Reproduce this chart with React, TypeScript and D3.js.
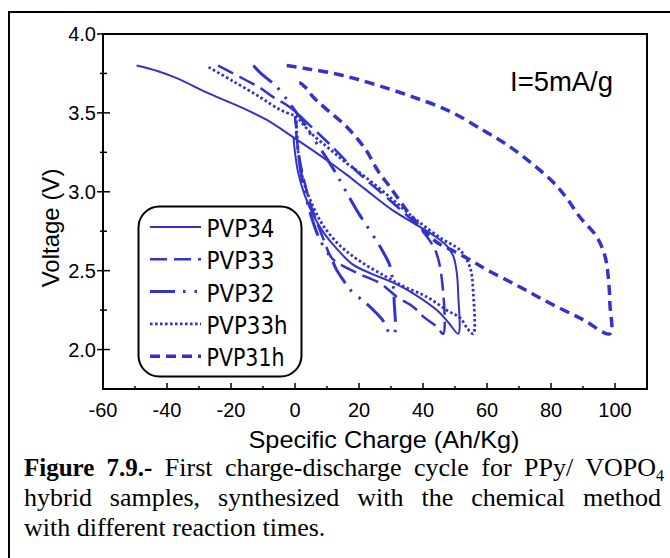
import React, { useLayoutEffect, useRef, useState } from "react";
import * as d3 from "d3";

// ---------- data ----------
const xTickValues = [-60, -40, -20, 0, 20, 40, 60, 80, 100];
const yTickValues = [2.0, 2.5, 3.0, 3.5, 4.0];
const seriesNames = ["PVP34", "PVP33", "PVP32", "PVP33h", "PVP31h"];

// PVP34 (solid)
const pvp34Q = [-49.5, -43, -37, -26.6, -16.2, -8.8, -0.5, 5, 10.6, 16, 22, 30, 38, 44, 47.5, 49.5, 50.6, 51, 51, 48, 44.3, 37, 30, 24, 18, 13, 9, 6, 3, 1, 0, -0.5];
const pvp34V = [3.80, 3.765, 3.72, 3.62, 3.53, 3.455, 3.345, 3.27, 3.19, 3.11, 3.015, 2.89, 2.79, 2.715, 2.655, 2.59, 2.48, 2.35, 2.10, 2.17, 2.25, 2.355, 2.43, 2.48, 2.54, 2.64, 2.74, 2.84, 2.98, 3.12, 3.25, 3.35];

// PVP33 (long dash)
const pvp33Q = [-24, -20.3, -15.6, -11, -6.8, -2.6, 0, 5.2, 10.9, 19.8, 30, 39, 43.8, 45.8, 46.3, 44.3, 40, 37, 31.8, 26.6, 20, 15, 11.5, 8.9, 4.7, 3.1, 1.5, 0.5, 0];
const pvp33V = [3.80, 3.76, 3.71, 3.66, 3.60, 3.55, 3.51, 3.41, 3.30, 3.12, 2.94, 2.77, 2.63, 2.46, 2.10, 2.145, 2.21, 2.27, 2.335, 2.42, 2.48, 2.53, 2.58, 2.70, 2.93, 3.05, 3.20, 3.35, 3.48];

// PVP32 (dash-dot-dot)
const pvp32Q = [-13, -10.9, -5.7, -2, 0.5, 1.6, 4.7, 9, 13, 16, 20, 24.5, 27.5, 29.5, 30.5, 31, 31, 29.7, 27.6, 25, 22.4, 17.2, 15.1, 13, 11.5, 7.8, 5, 2.5, 1, 0.3];
const pvp32V = [3.80, 3.755, 3.665, 3.57, 3.50, 3.475, 3.37, 3.24, 3.11, 3.00, 2.86, 2.72, 2.62, 2.54, 2.44, 2.30, 2.10, 2.10, 2.18, 2.24, 2.29, 2.38, 2.44, 2.505, 2.57, 2.695, 2.85, 3.05, 3.25, 3.45];

// PVP33h (dotted)
const pvp33hQ = [-27, -19.3, -10.9, -4.7, -1, 0.5, 2, 5.6, 10.9, 16.2, 20.3, 30, 38, 46, 51.6, 54.7, 55.7, 55.7, 54, 51.6, 47.4, 41.1, 34, 28.6, 20.3, 14, 9, 5.7, 2.6, 1, 0.5, 0.3];
const pvp33hV = [3.79, 3.70, 3.60, 3.52, 3.49, 3.48, 3.44, 3.36, 3.27, 3.18, 3.12, 2.96, 2.82, 2.70, 2.63, 2.52, 2.36, 2.10, 2.13, 2.20, 2.25, 2.335, 2.40, 2.46, 2.56, 2.66, 2.78, 2.905, 3.07, 3.25, 3.39, 3.48];

// PVP31h (short dash)
const pvp31hQ = [-2.6, 3.6, 10.9, 18.2, 26.6, 37, 48.4, 58.8, 66.1, 73.4, 80.7, 84.9, 89, 94.3, 96.9, 97.9, 98.4, 98.4, 90, 80, 70, 60, 55, 50, 44.3, 40, 35, 29.7, 26, 22, 16.2, 8.9, 5.7, 3.1, 1.5, 0];
const pvp31hV = [3.80, 3.78, 3.755, 3.72, 3.67, 3.60, 3.51, 3.39, 3.30, 3.19, 3.06, 2.96, 2.84, 2.715, 2.59, 2.46, 2.29, 2.10, 2.19, 2.29, 2.40, 2.505, 2.565, 2.62, 2.68, 2.76, 2.88, 3.03, 3.13, 3.27, 3.41, 3.54, 3.60, 3.665, 3.69, 3.685];

const seriesQ = [pvp34Q, pvp33Q, pvp32Q, pvp33hQ, pvp31hQ];
const seriesV = [pvp34V, pvp33V, pvp32V, pvp33hV, pvp31hV];

const currentLabel = "I=5mA/g";
const xTitle = "Specific Charge (Ah/Kg)";
const yTitle = "Voltage (V)";

// ---------- styles ----------
const BLUE = "#3333cc";
const lineStyles = [
  { dash: "none", width: 2 },
  { dash: "17,7", width: 2.5 },
  { dash: "25,8,2.5,9,2.5,8", width: 3 },
  { dash: "2.6,2.4", width: 2.8 },
  { dash: "10,6", width: 3.5 },
];
const legendWidths = [68, 68, 68, 81, 78];

function Caption() {
  const r1 = useRef<SVGTextElement>(null);
  const r2 = useRef<SVGTextElement>(null);
  const r3 = useRef<SVGTextElement>(null);
  const [ws, setWs] = useState<[number, number, number]>([0, 0, 0]);
  useLayoutEffect(() => {
    const a = r1.current, b = r2.current, c = r3.current;
    if (!a || !b || !c) return;
    const l1 = a.getComputedTextLength();
    const l2 = b.getComputedTextLength();
    const l3 = c.getComputedTextLength();
    setWs([(664 - 24 - l1) / 7, (661 - 24 - l2) / 6, Math.max(0, (318 - 24 - l3) / 3)]);
  }, []);
  const font = { fontFamily: "'Liberation Serif', 'Times New Roman', serif", fontSize: 26, fill: "#000" };
  return (
    <g>
      <text ref={r1} x={24} y={476} style={{ ...font, wordSpacing: ws[0] }}>
        <tspan fontWeight="bold" fontSize={25}>Figure 7.9.-</tspan> First charge-discharge cycle for PPy/ VOPO
        <tspan fontSize={16} dy={5}>4</tspan>
      </text>
      <text ref={r2} x={24} y={506} style={{ ...font, wordSpacing: ws[1] }}>
        hybrid samples, synthesized with the chemical method
      </text>
      <text ref={r3} x={24} y={536} style={{ ...font, wordSpacing: ws[2] }}>
        with different reaction times.
      </text>
    </g>
  );
}

export default function App() {
  const W = 670, H = 558;
  const x = d3.scaleLinear().domain([-60, 110]).range([103, 647]);
  const y = d3.scaleLinear().domain([1.75, 4.0]).range([389, 34]);
  const line = d3
    .line<[number, number]>()
    .x((d) => x(d[0]))
    .y((d) => y(d[1]))
    .curve(d3.curveCatmullRom.alpha(0.5));

  const xMinor = d3.range(-50, 110, 20);
  const yMinor = [2.25, 2.75, 3.25, 3.75];
  const sans = "'Liberation Sans', Arial, sans-serif";
  const [x0, x1] = x.range();
  const [y0, y1] = y.range();

  return (
    <svg width={W} height={H} style={{ position: "absolute", left: 0, top: 0, display: "block", background: "#fff" }}>
      <rect x={9} y={12} width={700} height={600} fill="none" stroke="#000" strokeWidth={2} />
      {/* series */}
      <g fill="none" stroke={BLUE}>
        {seriesNames.map((name, i) => {
          const pts = seriesQ[i].map((q, k) => [q, seriesV[i][k]] as [number, number]);
          return (
            <path
              key={name}
              d={line(pts) || ""}
              strokeWidth={lineStyles[i].width}
              strokeDasharray={lineStyles[i].dash}
            />
          );
        })}
      </g>
      {/* frame */}
      <rect x={x0} y={y1} width={x1 - x0} height={y0 - y1} fill="none" stroke="#000" strokeWidth={2} />
      {/* ticks */}
      <g stroke="#000" strokeWidth={1.5}>
        {xTickValues.map((t) => (
          <line key={"xt" + t} x1={x(t)} x2={x(t)} y1={y0} y2={y0 - 6} />
        ))}
        {xMinor.map((t) => (
          <line key={"xm" + t} x1={x(t)} x2={x(t)} y1={y0} y2={y0 - 3} />
        ))}
        {yTickValues.map((t) => (
          <line key={"yt" + t} x1={x0 - 6} x2={x0 + 7} y1={y(t)} y2={y(t)} />
        ))}
        {yMinor.map((t) => (
          <line key={"ym" + t} x1={x0 - 3} x2={x0 + 4} y1={y(t)} y2={y(t)} />
        ))}
      </g>
      <g fontFamily={sans} fontSize={20} fill="#000">
        {xTickValues.map((t) => (
          <text key={"xl" + t} x={x(t)} y={417} textAnchor="middle">
            {t}
          </text>
        ))}
        {yTickValues.map((t) => (
          <text key={"yl" + t} x={96} y={y(t) + 7} textAnchor="end">
            {t.toFixed(1)}
          </text>
        ))}
      </g>
      <text x={384} y={448} textAnchor="middle" fontFamily={sans} fontSize={24} textLength={271} lengthAdjust="spacingAndGlyphs">
        {xTitle}
      </text>
      <text transform="translate(59,228) rotate(-90)" textAnchor="middle" fontFamily={sans} fontSize={24}>
        {yTitle}
      </text>
      <text x={510} y={91} fontFamily={sans} fontSize={27} textLength={103} lengthAdjust="spacingAndGlyphs">
        {currentLabel}
      </text>
      {/* legend */}
      <rect x={138.5} y={206.5} width={163} height={170} rx={21} ry={21} fill="#fff" stroke="#000" strokeWidth={2} />
      {seriesNames.map((name, i) => {
        const ly = 227 + i * 32.3;
        return (
          <g key={"lg" + name}>
            <line x1={150} x2={201} y1={ly} y2={ly} stroke={BLUE} strokeWidth={lineStyles[i].width} strokeDasharray={lineStyles[i].dash} />
            <text
              x={206.5}
              y={ly + 10}
              fontFamily="'DejaVu Sans Condensed', 'DejaVu Sans', sans-serif"
              fontSize={25}
              textLength={legendWidths[i]}
              lengthAdjust="spacingAndGlyphs"
            >
              {name}
            </text>
          </g>
        );
      })}
      <Caption />
    </svg>
  );
}
